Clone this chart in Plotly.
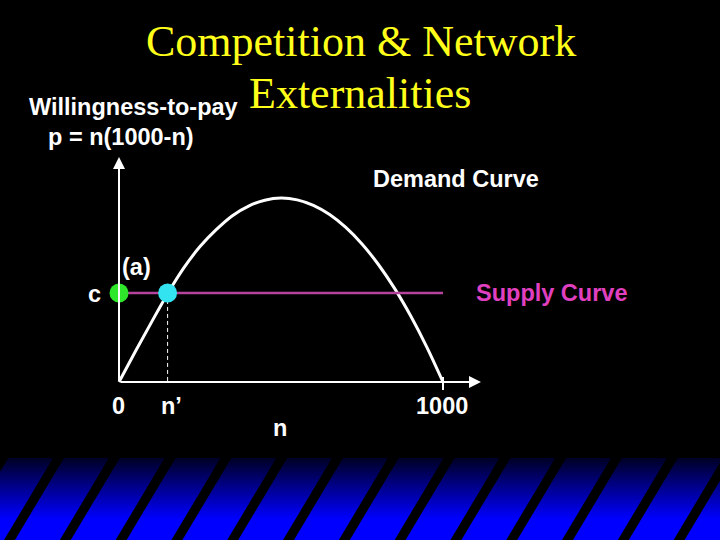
import plotly.graph_objects as go

# ---- data ----
n_vals = [0, 50, 100, 150, 200, 250, 300, 350, 400, 450, 500, 550, 600, 650, 700, 750, 800, 850, 900, 950, 1000]
p_vals = [0, 41000, 81000, 120000, 155000, 184000, 207000, 226000, 239000, 247000, 250000,
          247500, 240000, 227500, 210000, 187500, 160000, 127500, 90000, 47500, 0]
supply_n = [0, 1000]
cost_c = 121000
n_prime = 150
tick_vals = [0, n_prime, 1000]
tick_text = ["0", "n’", "1000"]

W, H = 720, 540
# axes mapping (pixel layout of the slide)
X0PX, X1000PX = 119, 443
Y0PX, YMAXPX = 382, 198
sx = (X1000PX - X0PX) / 1000.0
sy = (Y0PX - YMAXPX) / 250000.0
x_range = [-X0PX / sx, (W - X0PX) / sx]
y_range = [-(H - Y0PX) / sy, Y0PX / sy]

def px(xp):
    return xp / W

def py(yp):
    return 1 - yp / H

fig = go.Figure()

# demand curve
fig.add_trace(go.Scatter(x=n_vals, y=p_vals, mode="lines", line=dict(color="white", width=3, shape="spline"),
                         hoverinfo="skip"))
# supply curve
fig.add_trace(go.Scatter(x=supply_n, y=[cost_c, cost_c], mode="lines", line=dict(color="#b4449c", width=2.5),
                         hoverinfo="skip"))
# dashed line at n'
fig.add_trace(go.Scatter(x=[n_prime, n_prime], y=[cost_c, 0], mode="lines",
                         line=dict(color="white", width=1, dash="4px,3px"), hoverinfo="skip"))
# points
fig.add_trace(go.Scatter(x=[0], y=[cost_c], mode="markers", marker=dict(color="#2ee62a", size=19), hoverinfo="skip"))
fig.add_trace(go.Scatter(x=[n_prime], y=[cost_c], mode="markers", marker=dict(color="#33e4f0", size=19),
                         hoverinfo="skip"))

shapes = []
# gradient band at bottom
band_top, grad_end = 458, 520
steps = 31
for i in range(steps):
    y_a = band_top + (grad_end - band_top) * i / steps
    y_b = band_top + (grad_end - band_top) * (i + 1) / steps + 0.5
    t = i / (steps - 1)
    b = int(40 + (255 - 40) * t)
    shapes.append(dict(type="rect", xref="paper", yref="paper", x0=0, x1=1, y0=py(y_b), y1=py(y_a),
                       fillcolor=f"rgb(0,0,{b})", line=dict(width=0), layer="below"))
shapes.append(dict(type="rect", xref="paper", yref="paper", x0=0, x1=1, y0=0, y1=py(grad_end),
                   fillcolor="rgb(0,0,255)", line=dict(width=0), layer="below"))
# black diagonal stripes
spacing = 55.8
x_top0 = 53
sw = 11
shift = 49
for k in range(-1, 15):
    xt = x_top0 + k * spacing
    path = (f"M {px(xt)} {py(band_top)} L {px(xt + sw)} {py(band_top)} "
            f"L {px(xt + sw - shift)} {py(H)} L {px(xt - shift)} {py(H)} Z")
    shapes.append(dict(type="path", xref="paper", yref="paper", path=path, fillcolor="black",
                       line=dict(width=0), layer="below"))

# x-axis tick at 1000
shapes.append(dict(type="line", xref="x", yref="paper", x0=1000, x1=1000, y0=py(390), y1=py(377),
                   line=dict(color="white", width=2)))

annotations = []
# axes with arrows
annotations.append(dict(x=0, y=(Y0PX - 157) / sy, ax=0, ay=0, xref="x", yref="y", axref="x", ayref="y",
                        showarrow=True, arrowhead=2, arrowsize=1.2, arrowwidth=2, arrowcolor="white", text=""))
annotations.append(dict(x=(481 - X0PX) / sx, y=0, ax=0, ay=0, xref="x", yref="y", axref="x", ayref="y",
                        showarrow=True, arrowhead=2, arrowsize=1.2, arrowwidth=2, arrowcolor="white", text=""))

sans = "Liberation Sans, Arial, sans-serif"
serif = "Liberation Serif, Times New Roman, serif"
LS = 23.5

def txt(text, x, y, size=LS, color="white", family=sans, xref="paper", yref="paper", xanchor="center",
        xshift=0, yshift=0, bold=True):
    annotations.append(dict(text=(f"<b>{text}</b>" if bold else text), x=x, y=y, xref=xref, yref=yref,
                            xanchor=xanchor, yanchor="middle", showarrow=False, xshift=xshift, yshift=yshift,
                            font=dict(size=size, color=color, family=family)))

# title
txt("Competition &amp; Network", px(361), py(42), size=44, color="#ffff1a", family=serif, bold=False)
txt("Externalities", px(360), py(94), size=44, color="#ffff1a", family=serif, bold=False)
# labels
txt("Willingness-to-pay", px(133), py(107))
txt("p = n(1000-n)", px(121), py(137))
txt("Demand Curve", px(456), py(179))
txt("Supply Curve", 1000, cost_c, color="#e040c0", xref="x", yref="y", xanchor="left", xshift=31)
txt("c", 0, cost_c, xref="x", yref="y", xanchor="right", xshift=-16, yshift=-1)
txt("(a)", 0, cost_c, xref="x", yref="y", xshift=17, yshift=26)
for v, t in zip(tick_vals, tick_text):
    xs = 4 if t == "n’" else -1
    txt(t, v, 0, xref="x", yref="y", xshift=xs, yshift=-24)
txt("n", 500, 0, xref="x", yref="y", xshift=-1, yshift=-46)

fig.update_layout(
    width=W, height=H, margin=dict(l=0, r=0, t=0, b=0),
    paper_bgcolor="black", plot_bgcolor="rgba(0,0,0,0)",
    showlegend=False,
    xaxis=dict(range=x_range, visible=False, fixedrange=True),
    yaxis=dict(range=y_range, visible=False, fixedrange=True),
    shapes=shapes, annotations=annotations,
)

fig.write_html("out.html", config={"displayModeBar": False},
               post_script="document.body.style.margin='0';document.body.style.background='black';"
                           "document.body.style.overflow='hidden';")
